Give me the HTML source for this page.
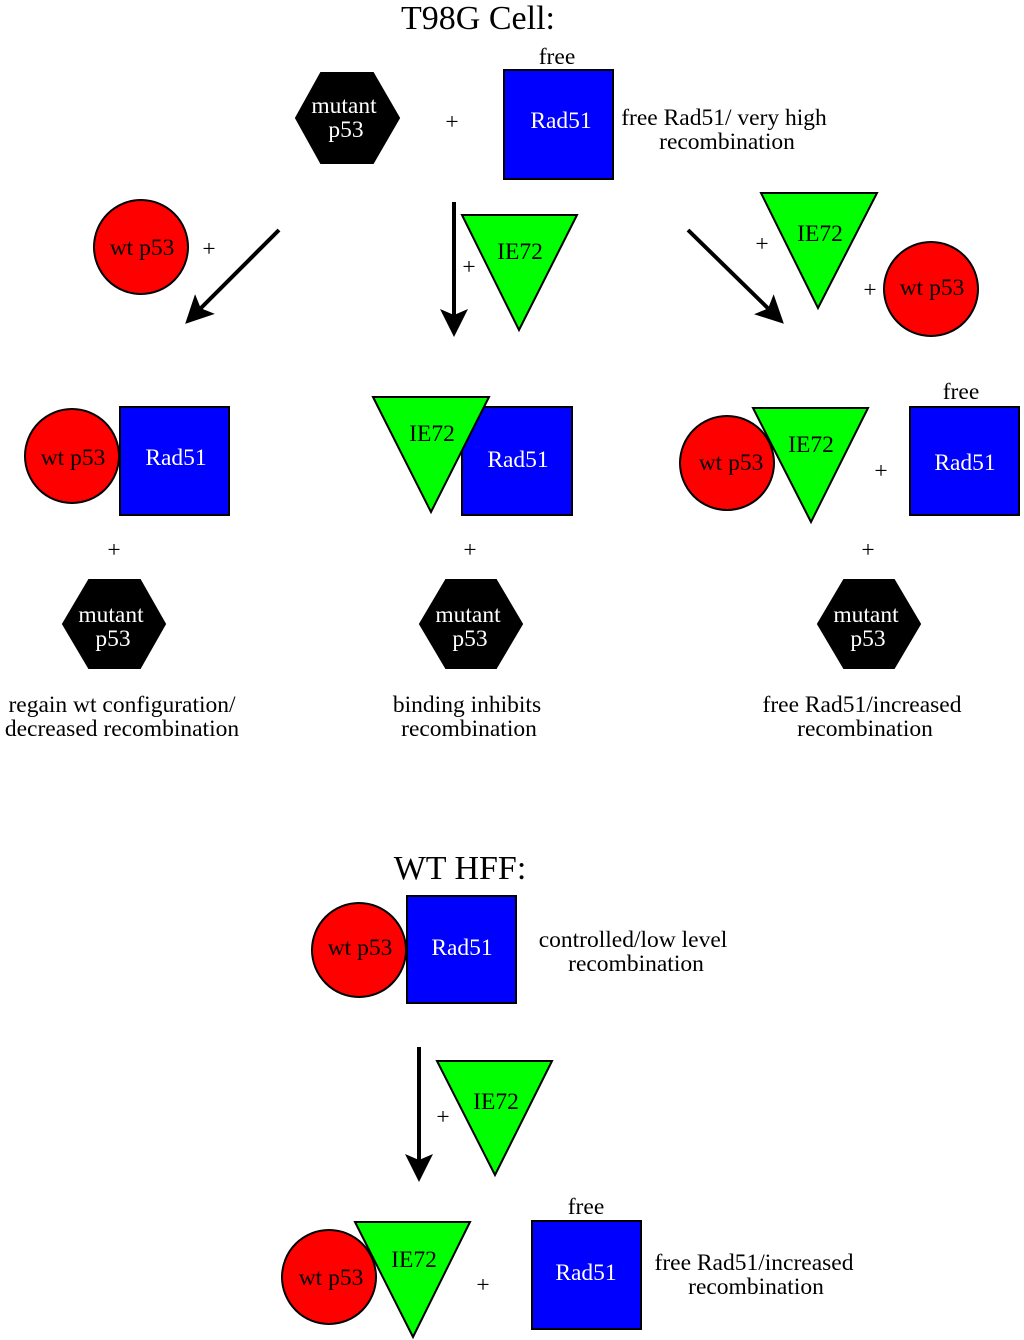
<!DOCTYPE html>
<html><head><meta charset="utf-8"><style>
html,body{margin:0;padding:0;background:#fff;}
svg{display:block;}
text{font-family:"Liberation Serif",serif;font-size:23.5px;text-anchor:middle;}
.w{fill:#fff;}
.t{font-size:34px;}
</style></head><body>
<svg width="1024" height="1340" viewBox="0 0 1024 1340" xmlns="http://www.w3.org/2000/svg">
<defs>
<marker id="ah" markerWidth="8" markerHeight="8" refX="6" refY="4" orient="auto" markerUnits="strokeWidth">
<path d="M0,0.5 L7,4 L0,7.5 L1.5,4 z" fill="#000"/>
</marker>
</defs>
<g stroke="#000" stroke-width="2">
<polygon points="296,118 321,73 373,73 399,118 373,163 321,163" fill="#000"/>
<rect x="504" y="70" width="109" height="109" fill="#0000ff"/>
<circle cx="141" cy="247" r="47" fill="#ff0000"/>
<polygon points="462,215 577,215 519,330" fill="#00ff00"/>
<polygon points="761,193 877,193 818,308" fill="#00ff00"/>
<circle cx="931" cy="289" r="47" fill="#ff0000"/>
<rect x="120" y="407" width="109" height="108" fill="#0000ff"/>
<circle cx="72" cy="456" r="47" fill="#ff0000"/>
<polygon points="63,624 89,580 140,580 165,624 140,668 89,668" fill="#000"/>
<rect x="462" y="407" width="110" height="108" fill="#0000ff"/>
<polygon points="373,397 489,397 431,512" fill="#00ff00"/>
<polygon points="420,624 446,580 496,580 522,624 496,668 446,668" fill="#000"/>
<circle cx="727" cy="463" r="47" fill="#ff0000"/>
<polygon points="753,408 868,408 811,522" fill="#00ff00"/>
<rect x="910" y="407" width="109" height="108" fill="#0000ff"/>
<polygon points="818,624 844,580 894,580 920,624 894,668 844,668" fill="#000"/>
<circle cx="359" cy="950" r="47" fill="#ff0000"/>
<rect x="407" y="896" width="109" height="107" fill="#0000ff"/>
<polygon points="437,1061 552,1061 495,1175" fill="#00ff00"/>
<circle cx="329" cy="1277" r="47" fill="#ff0000"/>
<polygon points="355,1222 470,1222 413,1337" fill="#00ff00"/>
<rect x="532" y="1221" width="109" height="108" fill="#0000ff"/>
</g>
<g stroke="#000" stroke-width="4" marker-end="url(#ah)">
<line x1="279" y1="230" x2="188" y2="321"/>
<line x1="454" y1="202" x2="454" y2="333"/>
<line x1="688" y1="230" x2="781" y2="321"/>
<line x1="419" y1="1047" x2="419" y2="1178"/>
</g>
<text class="t" x="478" y="29">T98G Cell:</text>
<text class="t" x="460" y="879">WT HFF:</text>
<text class="w" x="344" y="113">mutant</text><text class="w" x="346" y="137">p53</text>
<text x="452" y="129">+</text>
<text x="557" y="64">free</text>
<text class="w" x="561" y="128">Rad51</text>
<text x="724" y="125">free Rad51/ very high</text>
<text x="727" y="149">recombination</text>
<text x="142" y="255">wt p53</text>
<text x="209" y="256">+</text>
<text x="520" y="259">IE72</text>
<text x="469" y="274">+</text>
<text x="762" y="251">+</text>
<text x="820" y="241">IE72</text>
<text x="870" y="297">+</text>
<text x="932" y="295">wt p53</text>
<text x="73" y="465">wt p53</text>
<text class="w" x="176" y="465">Rad51</text>
<text x="114" y="557">+</text>
<text class="w" x="111" y="622">mutant</text><text class="w" x="113" y="646">p53</text>
<text x="432" y="441">IE72</text>
<text class="w" x="518" y="467">Rad51</text>
<text x="470" y="557">+</text>
<text class="w" x="468" y="622">mutant</text><text class="w" x="470" y="646">p53</text>
<text x="731" y="470">wt p53</text>
<text x="811" y="452">IE72</text>
<text x="881" y="478">+</text>
<text x="961" y="399">free</text>
<text class="w" x="965" y="470">Rad51</text>
<text x="868" y="557">+</text>
<text class="w" x="866" y="622">mutant</text><text class="w" x="868" y="646">p53</text>
<text x="122" y="712">regain wt configuration/</text>
<text x="122" y="736">decreased recombination</text>
<text x="467" y="712">binding inhibits</text>
<text x="469" y="736">recombination</text>
<text x="862" y="712">free Rad51/increased</text>
<text x="865" y="736">recombination</text>
<text x="360" y="955">wt p53</text>
<text class="w" x="462" y="955">Rad51</text>
<text x="633" y="947">controlled/low level</text>
<text x="636" y="971">recombination</text>
<text x="443" y="1124">+</text>
<text x="496" y="1109">IE72</text>
<text x="331" y="1285">wt p53</text>
<text x="414" y="1267">IE72</text>
<text x="483" y="1292">+</text>
<text x="586" y="1214">free</text>
<text class="w" x="586" y="1280">Rad51</text>
<text x="754" y="1270">free Rad51/increased</text>
<text x="756" y="1294">recombination</text>
</svg>
</body></html>
